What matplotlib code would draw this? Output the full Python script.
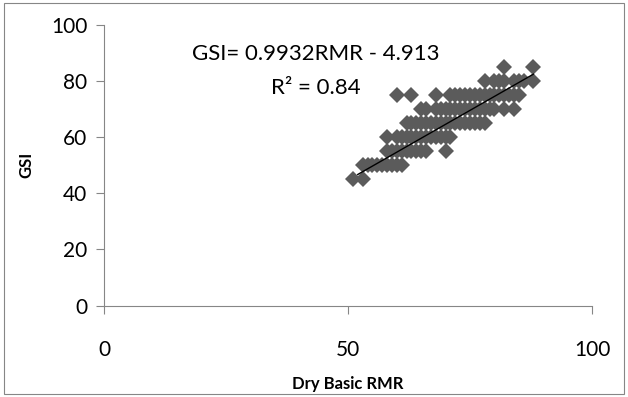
import numpy as np
import matplotlib.pyplot as plt
from matplotlib.patches import Rectangle

# Dry basic RMR vs GSI (GSI in steps of 5)
rmr_85 = [82, 88]
rmr_80 = [78, 80, 81, 82, 84, 85, 86, 88]
rmr_75 = [60, 63, 68, 71, 72, 73, 74, 75, 76, 77, 78, 79, 80, 81, 82, 83, 84, 85]
rmr_70 = [65, 66, 68, 69, 70, 71, 72, 73, 74, 75, 76, 77, 78, 79, 80, 82, 84]
rmr_65 = [62, 63, 64, 65, 66, 67, 68, 69, 70, 71, 72, 73, 74, 75, 76, 77, 78]
rmr_60 = [58, 60, 61, 62, 63, 64, 65, 66, 67, 68, 69, 70, 71]
rmr_55 = [58, 59, 60, 61, 62, 63, 64, 65, 66, 70]
rmr_50 = [53, 54, 55, 56, 57, 58, 59, 60, 61]
rmr_45 = [51, 53]

groups = [(85, rmr_85), (80, rmr_80), (75, rmr_75), (70, rmr_70), (65, rmr_65),
          (60, rmr_60), (55, rmr_55), (50, rmr_50), (45, rmr_45)]

slope, intercept = 0.9932, -4.913
fit_x = [52, 88]

def main():
    plt.rcParams['font.family'] = ['Lato', 'DejaVu Sans']
    fig = plt.figure(figsize=(6.28, 3.97), dpi=100)
    ax = fig.add_axes([104 / 628, 1 - 305.6 / 397, (592 - 104) / 628, (305.6 - 25) / 397])

    x = []
    y = []
    for g, vals in groups:
        x += vals
        y += [g] * len(vals)
    ax.plot(x, y, linestyle='none', marker='D', markersize=8.5,
            color='#5b5b5b', markeredgewidth=0)

    fx = np.array(fit_x)
    ax.plot(fx, slope * fx + intercept, color='black', linewidth=1)

    ax.set_xlim(0, 100)
    ax.set_ylim(0, 100)
    ax.set_xticks([0, 50, 100])
    ax.set_yticks([0, 20, 40, 60, 80, 100])
    for side in ['top', 'right']:
        ax.spines[side].set_visible(False)
    for side in ['left', 'bottom']:
        ax.spines[side].set_color('#868686')
        ax.spines[side].set_linewidth(0.8)
    ax.tick_params(axis='x', direction='out', length=6, color='#868686', pad=19, labelsize=15)
    ax.tick_params(axis='y', direction='out', length=6, color='#868686', pad=6, labelsize=15)

    ax.set_xlabel('Dry Basic RMR', fontsize=12, fontweight='bold', labelpad=11)
    ax.set_ylabel('GSI', fontsize=12, fontweight='bold', labelpad=12)

    ax.text(316 / 628, 1 - 54 / 397, 'GSI= 0.9932RMR - 4.913', transform=fig.transFigure,
            ha='center', va='center', fontsize=16)
    ax.text(316 / 628, 1 - 88 / 397, 'R² = 0.84', transform=fig.transFigure,
            ha='center', va='center', fontsize=16)

    # chart area border
    fig.patches.append(Rectangle((4 / 628, 3 / 397), 620 / 628, 391 / 397, transform=fig.transFigure,
                                 fill=False, edgecolor='#868686', linewidth=0.8))

    fig.savefig('out.png', dpi=100)

if __name__ == '__main__':
    main()
